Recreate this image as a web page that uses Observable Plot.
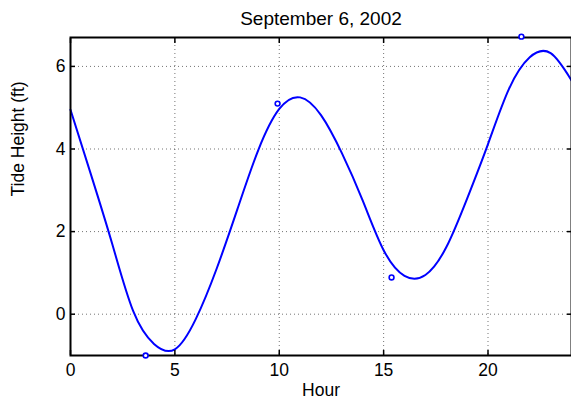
<!DOCTYPE html>
<html><head><meta charset="utf-8">
<script src="https://cdn.jsdelivr.net/npm/d3@7"></script>
<script src="https://cdn.jsdelivr.net/npm/@observablehq/plot@0.6"></script>
<style>html,body{margin:0;padding:0;background:#fff;overflow:hidden}</style>
</head><body><div id="chart"></div>
<script>
// Fitted tide curve at each hour
const curveHours   = [0, 1, 2, 3, 4, 5, 6, 7, 8, 9, 10, 11, 12, 13, 14, 15, 16, 17, 18, 19, 20, 21, 22, 23, 24];
const curveHeights = [4.95, 3.35, 1.7, 0.08, -0.72, -0.85, -0.12, 1.1, 2.55, 3.98, 4.97, 5.25, 4.82, 3.9, 2.75, 1.55, 0.93, 0.95, 1.62, 2.8, 4.12, 5.45, 6.22, 6.32, 5.66];
// Observed high/low tides
const obsHours   = [3.6, 9.92, 15.38, 21.6];
const obsHeights = [-1.0, 5.1, 0.89, 6.72];
// Ticks and text
const xTicks = [0, 5, 10, 15, 20];
const yTicks = [0, 2, 4, 6];
const titleText = "September 6, 2002";
const xLabel = "Hour";
const yLabel = "Tide Height (ft)";

const curve = curveHours.map((h, i) => ({hour: h, height: curveHeights[i]}));
const obs = obsHours.map((h, i) => ({hour: h, height: obsHeights[i]}));

const chart = Plot.plot({
  width: 571, height: 399,
  marginTop: 37, marginBottom: 44, marginLeft: 70, marginRight: 0,
  style: {fontFamily: "'Liberation Sans', Arial, Helvetica, sans-serif", fontSize: "17.5px", background: "#fff", color: "#000", overflow: "visible"},
  x: {domain: [0, 24]},
  y: {domain: [-1, 6.7]},
  marks: [
    Plot.gridX(xTicks.filter(d => d > 0), {stroke: "#000", strokeOpacity: 0.55, strokeDasharray: "1,3", strokeWidth: 1}),
    Plot.gridY(yTicks, {stroke: "#000", strokeOpacity: 0.55, strokeDasharray: "1,3", strokeWidth: 1}),
    Plot.line(curve, {x: "hour", y: "height", stroke: "#0000ff", strokeWidth: 2, curve: "natural"}),
    Plot.axisX(xTicks, {anchor: "bottom", tickSize: -5, tickPadding: 13, label: null, strokeWidth: 1.5}),
    Plot.axisX(xTicks, {anchor: "top", tickSize: -5, tickFormat: () => "", label: null, strokeWidth: 1.5}),
    Plot.axisY(yTicks, {anchor: "left", tickSize: -5, tickPadding: 10, label: null, strokeWidth: 1.5}),
    Plot.axisY(yTicks, {anchor: "right", tickSize: -5, tickFormat: () => "", label: null, strokeWidth: 1.5}),
    Plot.frame({stroke: "#000", strokeWidth: 2}),
    Plot.dot(obs, {x: "hour", y: "height", r: 2.4, stroke: "#0000ff", fill: "#fff", strokeWidth: 1.6}),
    Plot.text([titleText], {text: d => d, frameAnchor: "top", dy: -13, lineAnchor: "bottom", fontSize: 19}),
    Plot.text([xLabel], {text: d => d, frameAnchor: "bottom", dy: 40, lineAnchor: "bottom"}),
    Plot.text([yLabel], {text: d => d, frameAnchor: "left", dx: -46.7, rotate: -90, lineAnchor: "bottom"})
  ]
});
document.getElementById("chart").appendChild(chart);
</script>
</body></html>
